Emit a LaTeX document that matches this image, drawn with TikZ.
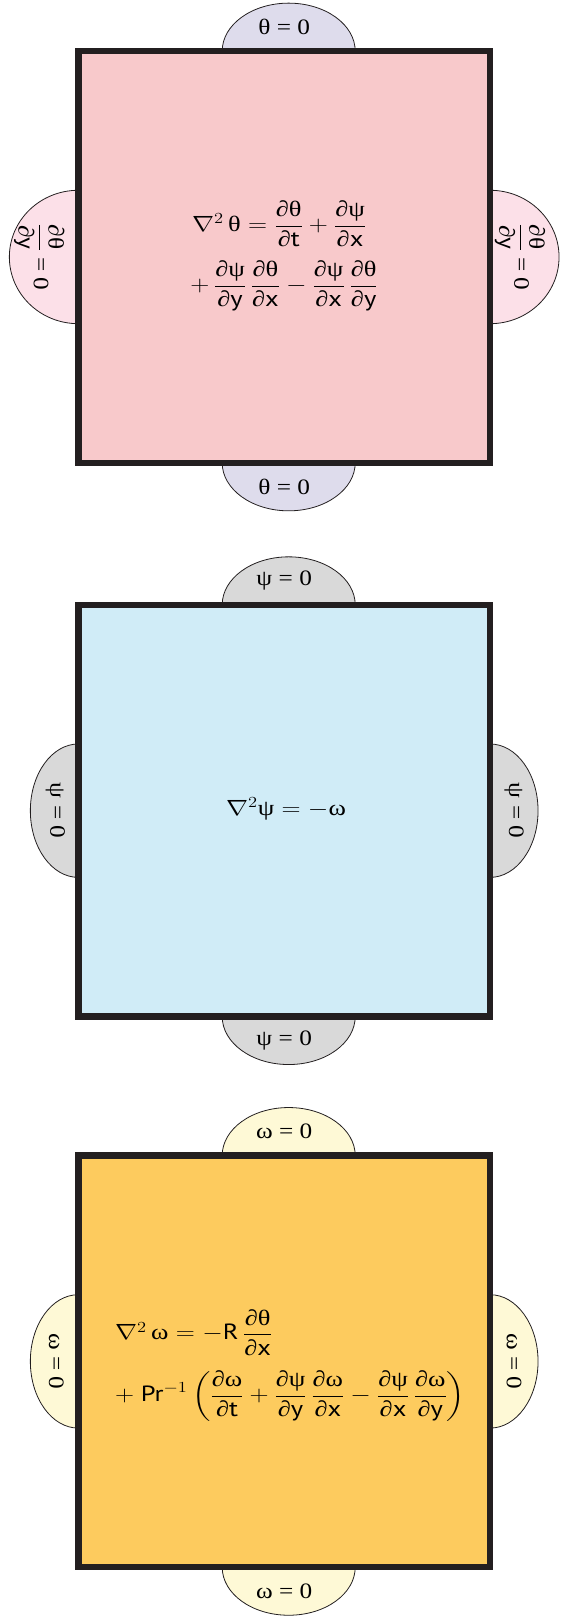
\documentclass[tikz,border=0pt]{standalone}
\usepackage{fix-cm}
\usepackage{amsmath}
\usepackage{graphicx}
\usepackage{fontspec}
\setmainfont{Liberation Serif}
\setsansfont{PT Sans}
\usetikzlibrary{positioning,backgrounds}
\definecolor{EdgeBlack}{HTML}{231F20}
\definecolor{TempPink}{HTML}{F8C9CB}
\definecolor{TempLilac}{HTML}{DEDCEC}
\definecolor{TempRose}{HTML}{FCE0E8}
\definecolor{StreamBlue}{HTML}{D0ECF7}
\definecolor{StreamGray}{HTML}{D9D9D9}
\definecolor{VortGold}{HTML}{FDCB5E}
\definecolor{VortCream}{HTML}{FEF9D6}
\newcommand{\pfrac}[2]{\dfrac{\text{∂#1}}{\text{∂\textsf{#2}}}}
\newcommand{\lbl}[1]{\scalebox{1.15}[1]{#1}}
\newcommand{\eqw}[1]{\scalebox{1.2}[1]{#1}}

\begin{document}
\begin{tikzpicture}[
  x=1pt, y=1pt,
  panel/.style={draw=EdgeBlack,line width=6.5pt,minimum width=411.7pt,minimum height=411.7pt,outer sep=0pt,inner sep=0pt},
  bcap/.style={draw=EdgeBlack,line width=0.8pt},
  bc/.style={font=\fontsize{22}{26}\selectfont,inner sep=0pt},
  eqn/.style={font=\fontsize{22}{26}\selectfont,inner sep=0pt}
]
\useasboundingbox (0,0) rectangle (560,1623);
\node[panel,fill=TempPink] (temp) at (284.2,1366) {};
\node[panel,fill=StreamBlue,below=142pt of temp] (stream) {};
\node[panel,fill=VortGold,below=139pt of stream] (vort) {};

% boundary caps behind the panels
\begin{scope}[on background layer]
\draw[bcap,fill=TempLilac] ([xshift=-62pt]temp.north) arc[start angle=180,end angle=0,x radius=66.5pt,y radius=48pt] -- cycle;
\draw[bcap,fill=TempLilac] ([xshift=-62pt]temp.south) arc[start angle=180,end angle=360,x radius=66.5pt,y radius=48pt] -- cycle;
\draw[bcap,fill=TempRose] ([yshift=66.7pt]temp.west) arc[start angle=90,end angle=270,x radius=69pt,y radius=66.7pt] -- cycle;
\draw[bcap,fill=TempRose] ([yshift=66.7pt]temp.east) arc[start angle=90,end angle=-90,x radius=69pt,y radius=66.7pt] -- cycle;
\draw[bcap,fill=StreamGray] ([xshift=-62pt]stream.north) arc[start angle=180,end angle=0,x radius=66.5pt,y radius=48pt] -- cycle;
\draw[bcap,fill=StreamGray] ([xshift=-62pt]stream.south) arc[start angle=180,end angle=360,x radius=66.5pt,y radius=48pt] -- cycle;
\draw[bcap,fill=StreamGray] ([yshift=66.7pt]stream.west) arc[start angle=90,end angle=270,x radius=48pt,y radius=66.7pt] -- cycle;
\draw[bcap,fill=StreamGray] ([yshift=66.7pt]stream.east) arc[start angle=90,end angle=-90,x radius=48pt,y radius=66.7pt] -- cycle;
\draw[bcap,fill=VortCream] ([xshift=-62pt]vort.north) arc[start angle=180,end angle=0,x radius=66.5pt,y radius=48pt] -- cycle;
\draw[bcap,fill=VortCream] ([xshift=-62pt]vort.south) arc[start angle=180,end angle=360,x radius=66.5pt,y radius=48pt] -- cycle;
\draw[bcap,fill=VortCream] ([yshift=66.7pt]vort.west) arc[start angle=90,end angle=270,x radius=48pt,y radius=66.7pt] -- cycle;
\draw[bcap,fill=VortCream] ([yshift=66.7pt]vort.east) arc[start angle=90,end angle=-90,x radius=48pt,y radius=66.7pt] -- cycle;
\end{scope}

% temperature
\node[bc] (tempN) at ([yshift=24pt]temp.north) {\lbl{θ = 0}};
\node[bc] (tempS) at ([yshift=-24pt]temp.south) {\lbl{θ = 0}};
\node[bc,rotate=-90] (tempW) at ([xshift=-39pt]temp.west) {\lbl{$\pfrac{θ}{y}$ = 0}};
\node[bc,rotate=-90] (tempE) at ([xshift=30pt]temp.east) {\lbl{$\pfrac{θ}{y}$ = 0}};
\node[eqn,anchor=base] (heatA) at ([xshift=-5pt,yshift=25.3pt]temp.center)
  {\eqw{$\nabla^2\,\text{θ} = \pfrac{θ}{t} + \pfrac{ψ}{x}$}};
\node[eqn,anchor=base] (heatB) at ([yshift=-34.7pt]temp.center)
  {\eqw{$+\,\pfrac{ψ}{y}\,\pfrac{θ}{x} - \pfrac{ψ}{x}\,\pfrac{θ}{y}$}};

% stream function
\node[bc] (streamN) at ([yshift=24pt]stream.north) {\lbl{ψ = 0}};
\node[bc] (streamS) at ([yshift=-24pt]stream.south) {\lbl{ψ = 0}};
\node[bc,rotate=-90] (streamW) at ([xshift=-23pt]stream.west) {\lbl{ψ = 0}};
\node[bc,rotate=-90] (streamE) at ([xshift=24pt]stream.east) {\lbl{ψ = 0}};
\node[eqn,anchor=base] (poisson) at ([xshift=1.8pt,yshift=-5.1pt]stream.center)
  {\eqw{$\nabla^2\text{ψ} = -\text{ω}$}};

% vorticity
\node[bc] (vortN) at ([yshift=24pt]vort.north) {\lbl{ω = 0}};
\node[bc] (vortS) at ([yshift=-24pt]vort.south) {\lbl{ω = 0}};
\node[bc,rotate=-90] (vortW) at ([xshift=-22pt]vort.west) {\lbl{ω = 0}};
\node[bc,rotate=-90] (vortE) at ([xshift=24pt]vort.east) {\lbl{ω = 0}};
\node[eqn,anchor=base west] (vortA) at ([xshift=-169.2pt,yshift=21.4pt]vort.center)
  {\eqw{$\nabla^2\,\text{ω} = -\textsf{R}\,\pfrac{θ}{x}$}};
\node[eqn,anchor=base west] (vortB) at ([xshift=-169.2pt,yshift=-40.3pt]vort.center)
  {\eqw{$+\ \textsf{Pr}^{-1}\left(\pfrac{ω}{t} + \pfrac{ψ}{y}\,\pfrac{ω}{x} - \pfrac{ψ}{x}\,\pfrac{ω}{y}\right)$}};
\end{tikzpicture}
\end{document}
